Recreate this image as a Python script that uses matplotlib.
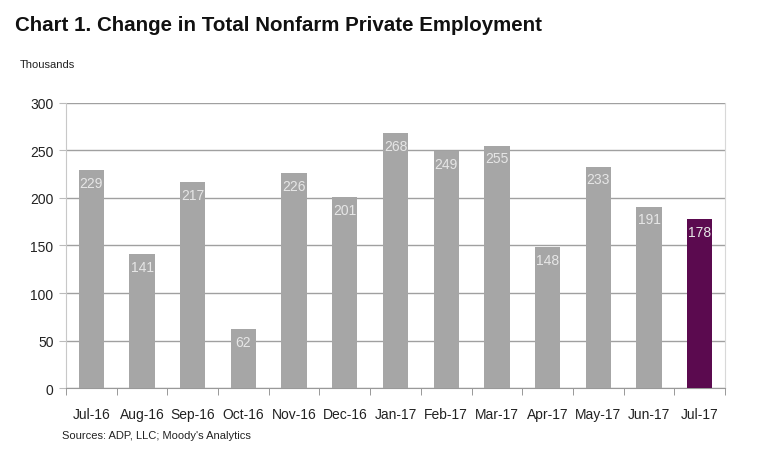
import matplotlib.pyplot as plt
import numpy as np

months = ['Jul-16', 'Aug-16', 'Sep-16', 'Oct-16', 'Nov-16', 'Dec-16', 'Jan-17',
          'Feb-17', 'Mar-17', 'Apr-17', 'May-17', 'Jun-17', 'Jul-17']
jobs = [229, 141, 217, 62, 226, 201, 268, 249, 255, 148, 233, 191, 178]

plt.rcParams['font.family'] = ['Liberation Sans', 'DejaVu Sans']

fig = plt.figure(figsize=(7.57, 4.6), dpi=100)
ax = fig.add_axes([0.0872, 0.1543, 0.8705, 0.6197])

x = np.arange(len(months))
colors = ['#a6a6a6'] * (len(months) - 1) + ['#5b0a4f']
ax.bar(x, jobs, width=0.5, color=colors, zorder=3)

for xi, v in zip(x, jobs):
    ax.text(xi, v - 6, str(v), ha='center', va='top', color='#e6e6e6',
            fontsize=10, zorder=4)

ax.set_xlim(-0.5, len(months) - 0.5)
ax.set_ylim(0, 300)
ax.set_yticks(range(0, 301, 50))
ax.yaxis.grid(True, color='#a0a0a0', linewidth=1, zorder=0)
ax.set_xticks(x)
ax.set_xticklabels(months, fontsize=10, color='#222222')
ax.set_xticks(np.arange(-0.5, len(months)), minor=True)
ax.tick_params(axis='x', which='major', length=0, pad=14)
ax.tick_params(axis='x', which='minor', length=5, color='#888888', direction='out')
ax.tick_params(axis='y', length=5, color='#bbbbbb', labelsize=10,
               labelcolor='#222222', pad=4)

ax.spines['top'].set_visible(False)
ax.spines['left'].set_color('#c8c8c8')
ax.spines['right'].set_color('#d8d8d8')
ax.spines['bottom'].set_color('#999999')

fig.text(0.02, 0.945, 'Chart 1. Change in Total Nonfarm Private Employment',
         fontsize=14.8, fontweight='bold', color='#111111', va='center')
fig.text(0.026, 0.858, 'Thousands', fontsize=8, color='#222222', va='center')
fig.text(0.082, 0.052, "Sources: ADP, LLC; Moody's Analytics", fontsize=8,
         color='#222222', va='center')

fig.savefig('out.png', dpi=100)
